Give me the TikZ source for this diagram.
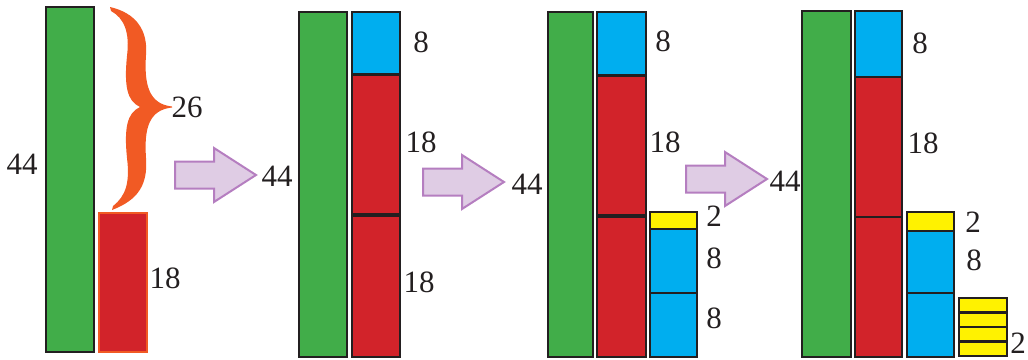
\documentclass[tikz,border=0pt]{standalone}
\usepackage{fontspec}
\setmainfont{Liberation Serif}
\definecolor{cgreen}{HTML}{41AD49}
\definecolor{cblue}{HTML}{00AEEF}
\definecolor{cred}{HTML}{D2232A}
\definecolor{cyellow}{HTML}{FFF200}
\definecolor{corange}{HTML}{F15A24}
\definecolor{carrowfill}{HTML}{DFCCE4}
\definecolor{carrowline}{HTML}{B57EC0}
\definecolor{cink}{HTML}{231F20}
\tikzset{
  box/.style={draw=cink, line width=2.7pt, inner sep=0pt, outer sep=0pt, anchor=north west},
  lbl/.style={text=cink, inner sep=0pt, font=\fontsize{31}{31}\selectfont},
  arrowbox/.style={draw=carrowline, fill=carrowfill, line width=2pt, line join=miter},
  bracefill/.style={fill=corange, draw=none}
}
\newcommand\blk[6]{\node[box, fill=#6, minimum width={#4-#2}, minimum height={#5-#3}] (#1) at (#2,#3) {};}
\newcommand\barrow[3]{\coordinate (#1) at (#2,#3);
  \draw[arrowbox, shift={(#2,#3)}] (0,-13.5) -- (39,-13.5) -- (39,-27) -- (81,0) -- (39,27) -- (39,13.5) -- (0,13.5) -- cycle;}
\begin{document}
\begin{tikzpicture}[x=1pt,y=-1pt]
\useasboundingbox (0,0) rectangle (1028,359);
% panel 1
\blk{g1}{46}{7}{94}{352}{cgreen}
\node[box, fill=cred, draw=corange, line width=2pt, minimum width=48, minimum height=139] (r1) at (99,213) {};
\fill[bracefill] (110,7) .. controls (136,13) and (148,30) .. (146,55)
  .. controls (144,85) and (149,104) .. (172,106.5)
  -- (172,107.5) .. controls (149,110) and (144,128) .. (146,158)
  .. controls (148,185) and (138,200) .. (112,210)
  -- (113,206) .. controls (126,196) and (130,182) .. (127,158)
  .. controls (124,128) and (127,113) .. (140,107)
  .. controls (127,101) and (124,86) .. (127,56)
  .. controls (130,32) and (124,18) .. (111,11) -- cycle;
\node[lbl] (l44a) at (22,164) {44};
\node[lbl] (l26) at (187,107) {26};
\node[lbl] (l18a) at (165,278) {18};
% arrow 1
\barrow{a1}{175}{175}
\node[lbl] (l44b) at (277,176) {44};
% panel 2
\blk{g2}{299}{12}{347}{357}{cgreen}
\blk{b2}{352}{12}{400}{74}{cblue}
\blk{r2a}{352}{75}{400}{214}{cred}
\blk{r2b}{352}{216}{400}{357}{cred}
\node[lbl] (l8b) at (421,42) {8};
\node[lbl] (l18b) at (421,142) {18};
\node[lbl] (l18c) at (419,282) {18};
% arrow 2
\barrow{a2}{423}{182}
\node[lbl] (l44c) at (527,184) {44};
% panel 3
\blk{g3}{548}{12}{593}{357}{cgreen}
\blk{b3}{597}{12}{646}{75}{cblue}
\blk{r3a}{597}{76}{646}{215}{cred}
\blk{r3b}{597}{217}{646}{357}{cred}
\blk{y3}{650}{212}{697}{229}{cyellow}
\blk{b3b}{650}{229}{697}{293}{cblue}
\blk{b3c}{650}{293}{697}{357}{cblue}
\node[lbl] (l8c) at (663,41) {8};
\node[lbl] (l18d) at (665,142) {18};
\node[lbl] (l2a) at (714,216) {2};
\node[lbl] (l8d) at (714,258) {8};
\node[lbl] (l8e) at (714,318) {8};
% arrow 3
\barrow{a3}{686}{179}
\node[lbl] (l44d) at (785,181) {44};
% panel 4
\blk{g4}{802}{11}{851}{357}{cgreen}
\blk{b4}{855}{11}{902}{77}{cblue}
\blk{r4a}{855}{77}{902}{217}{cred}
\blk{r4b}{855}{217}{902}{357}{cred}
\blk{y4}{907}{212}{954}{231}{cyellow}
\blk{b4b}{907}{231}{954}{293}{cblue}
\blk{b4c}{907}{293}{954}{357}{cblue}
\blk{s1}{959}{298}{1007}{312.5}{cyellow}
\blk{s2}{959}{312.5}{1007}{327}{cyellow}
\blk{s3}{959}{327}{1007}{341.5}{cyellow}
\blk{s4}{959}{341.5}{1007}{356}{cyellow}
\node[lbl] (l8f) at (920,43) {8};
\node[lbl] (l18e) at (923,143) {18};
\node[lbl] (l2b) at (973,222) {2};
\node[lbl] (l8g) at (974,260) {8};
\node[lbl] (l2c) at (1018,343) {2};
\end{tikzpicture}
\end{document}
